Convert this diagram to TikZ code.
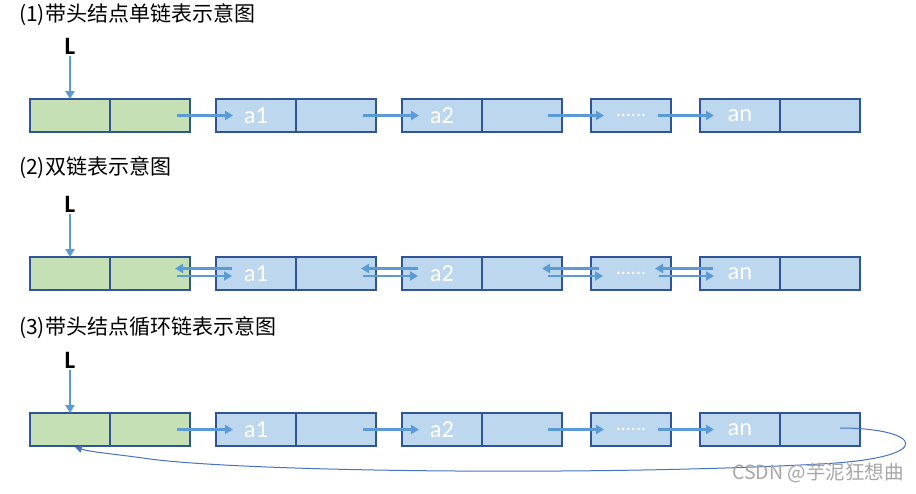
\documentclass[tikz,border=0pt]{standalone}
\usepackage{fontspec}
\setmainfont{Noto Sans CJK SC}
\newfontfamily\carlito{Carlito}
\newfontfamily\cjkf{Noto Sans CJK SC}
\usetikzlibrary{arrows.meta}
\definecolor{greenc}{HTML}{C5E0B4}
\definecolor{bluec}{HTML}{BDD7EE}
\definecolor{bordc}{HTML}{2F5597}
\definecolor{arrc}{HTML}{5B9BD5}
\definecolor{curvec}{HTML}{4472C4}
\tikzset{
  cell/.style={draw=bordc, line width=1.1pt, minimum width=80pt, minimum height=33pt, inner sep=0pt, outer sep=0pt, text=white, font=\carlito\fontsize{24.5}{24.5}\selectfont},
  hcell/.style={cell, fill=greenc},
  bcell/.style={cell, fill=bluec},
  link/.style={draw=arrc, line width=2.2pt, -{Triangle[length=8pt,width=9pt]}},
  titletext/.style={anchor=west, inner sep=0pt, font=\cjkf\fontsize{21}{21}\selectfont},
  lbl/.style={inner sep=0pt, font=\carlito\bfseries\fontsize{25}{25}\selectfont},
  backlink/.style={draw=curvec, line width=1pt, -{Triangle[length=7pt,width=7pt]}},
}
\begin{document}
\begin{tikzpicture}[x=1pt,y=-1pt]
\useasboundingbox (0,0) rectangle (916,493);
% ---------- cells of the three rows
\foreach \r/\y in {1/115.5, 2/273.5, 3/429.5}{
  \node[hcell] (h\r L) at (70,\y) {};
  \node[hcell] (h\r R) at (150,\y) {};
  \node[bcell] (a\r L) at (256,\y) {\raisebox{-1.5pt}{a1}};
  \node[bcell] (a\r R) at (336,\y) {};
  \node[bcell] (b\r L) at (442,\y) {\raisebox{-1.5pt}{a2}};
  \node[bcell] (b\r R) at (522,\y) {};
  \node[bcell] (d\r) at (631,\y) {\fontsize{20}{20}\selectfont......};
  \node[bcell] (n\r L) at (740,\y) {\raisebox{-1.5pt}{an}};
  \node[bcell] (n\r R) at (820,\y) {};
}
% ---------- row 1
\node[titletext] (t1) at (19,15) {(1)带头结点单链表示意图};
\node[lbl] (L1) at (70,46) {L};
\draw[link] ([yshift=-2pt]L1.south) -- (h1L.north);
\draw[link] ([xshift=-13pt]h1R.east) -- ([xshift=17pt]a1L.west);
\draw[link] ([xshift=-13pt]a1R.east) -- ([xshift=17pt]b1L.west);
\draw[link] ([xshift=-14pt]b1R.east) -- ([xshift=13pt]d1.west);
\draw[link] ([xshift=-13pt]d1.east) -- ([xshift=14pt]n1L.west);
% ---------- row 2
\node[titletext] (t2) at (19,168) {(2)双链表示意图};
\node[lbl] (L2) at (70,204) {L};
\draw[link] ([yshift=-2pt]L2.south) -- (h2L.north);
\draw[link] ([xshift=16pt,yshift=5pt]a2L.west) -- ([xshift=-15pt,yshift=5pt]h2R.east);
\draw[link] ([xshift=-13pt,yshift=-2.5pt]h2R.east) -- ([xshift=16pt,yshift=-2.5pt]a2L.west);
\draw[link] ([xshift=16pt,yshift=5pt]b2L.west) -- ([xshift=-15pt,yshift=5pt]a2R.east);
\draw[link] ([xshift=-13pt,yshift=-2.5pt]a2R.east) -- ([xshift=16pt,yshift=-2.5pt]b2L.west);
\draw[link] ([xshift=8pt,yshift=5pt]d2.west) -- ([xshift=-20pt,yshift=5pt]b2R.east);
\draw[link] ([xshift=-14pt,yshift=-2.5pt]b2R.east) -- ([xshift=12pt,yshift=-2.5pt]d2.west);
\draw[link] ([xshift=13pt,yshift=5pt]n2L.west) -- ([xshift=-16pt,yshift=5pt]d2.east);
\draw[link] ([xshift=-12pt,yshift=-2.5pt]d2.east) -- ([xshift=14pt,yshift=-2.5pt]n2L.west);
% ---------- row 3
\node[titletext] (t3) at (19,328) {(3)带头结点循环链表示意图};
\node[lbl] (L3) at (70,360) {L};
\draw[link] ([yshift=-2pt]L3.south) -- (h3L.north);
\draw[link] ([xshift=-13pt]h3R.east) -- ([xshift=17pt]a3L.west);
\draw[link] ([xshift=-13pt]a3R.east) -- ([xshift=17pt]b3L.west);
\draw[link] ([xshift=-14pt]b3R.east) -- ([xshift=13pt]d3.west);
\draw[link] ([xshift=-13pt]d3.east) -- ([xshift=14pt]n3L.west);
\coordinate (cs) at ([xshift=20pt,yshift=1.5pt]n3R.center);
\coordinate (ce) at ([xshift=5pt,yshift=-1pt]h3L.south);
\draw[backlink] (cs) .. controls (922,428) and (940,458) .. (820,464)
   .. controls (600,476) and (250,472) .. (150,459)
   .. controls (115,454) and (90,452) .. (ce);
% watermark
\node[anchor=east, inner sep=0pt, text=gray!70, font=\cjkf\fontsize{19.5}{19.5}\selectfont] (wm) at (904,473) {CSDN @芋泥狂想曲};
\end{tikzpicture}
\end{document}
